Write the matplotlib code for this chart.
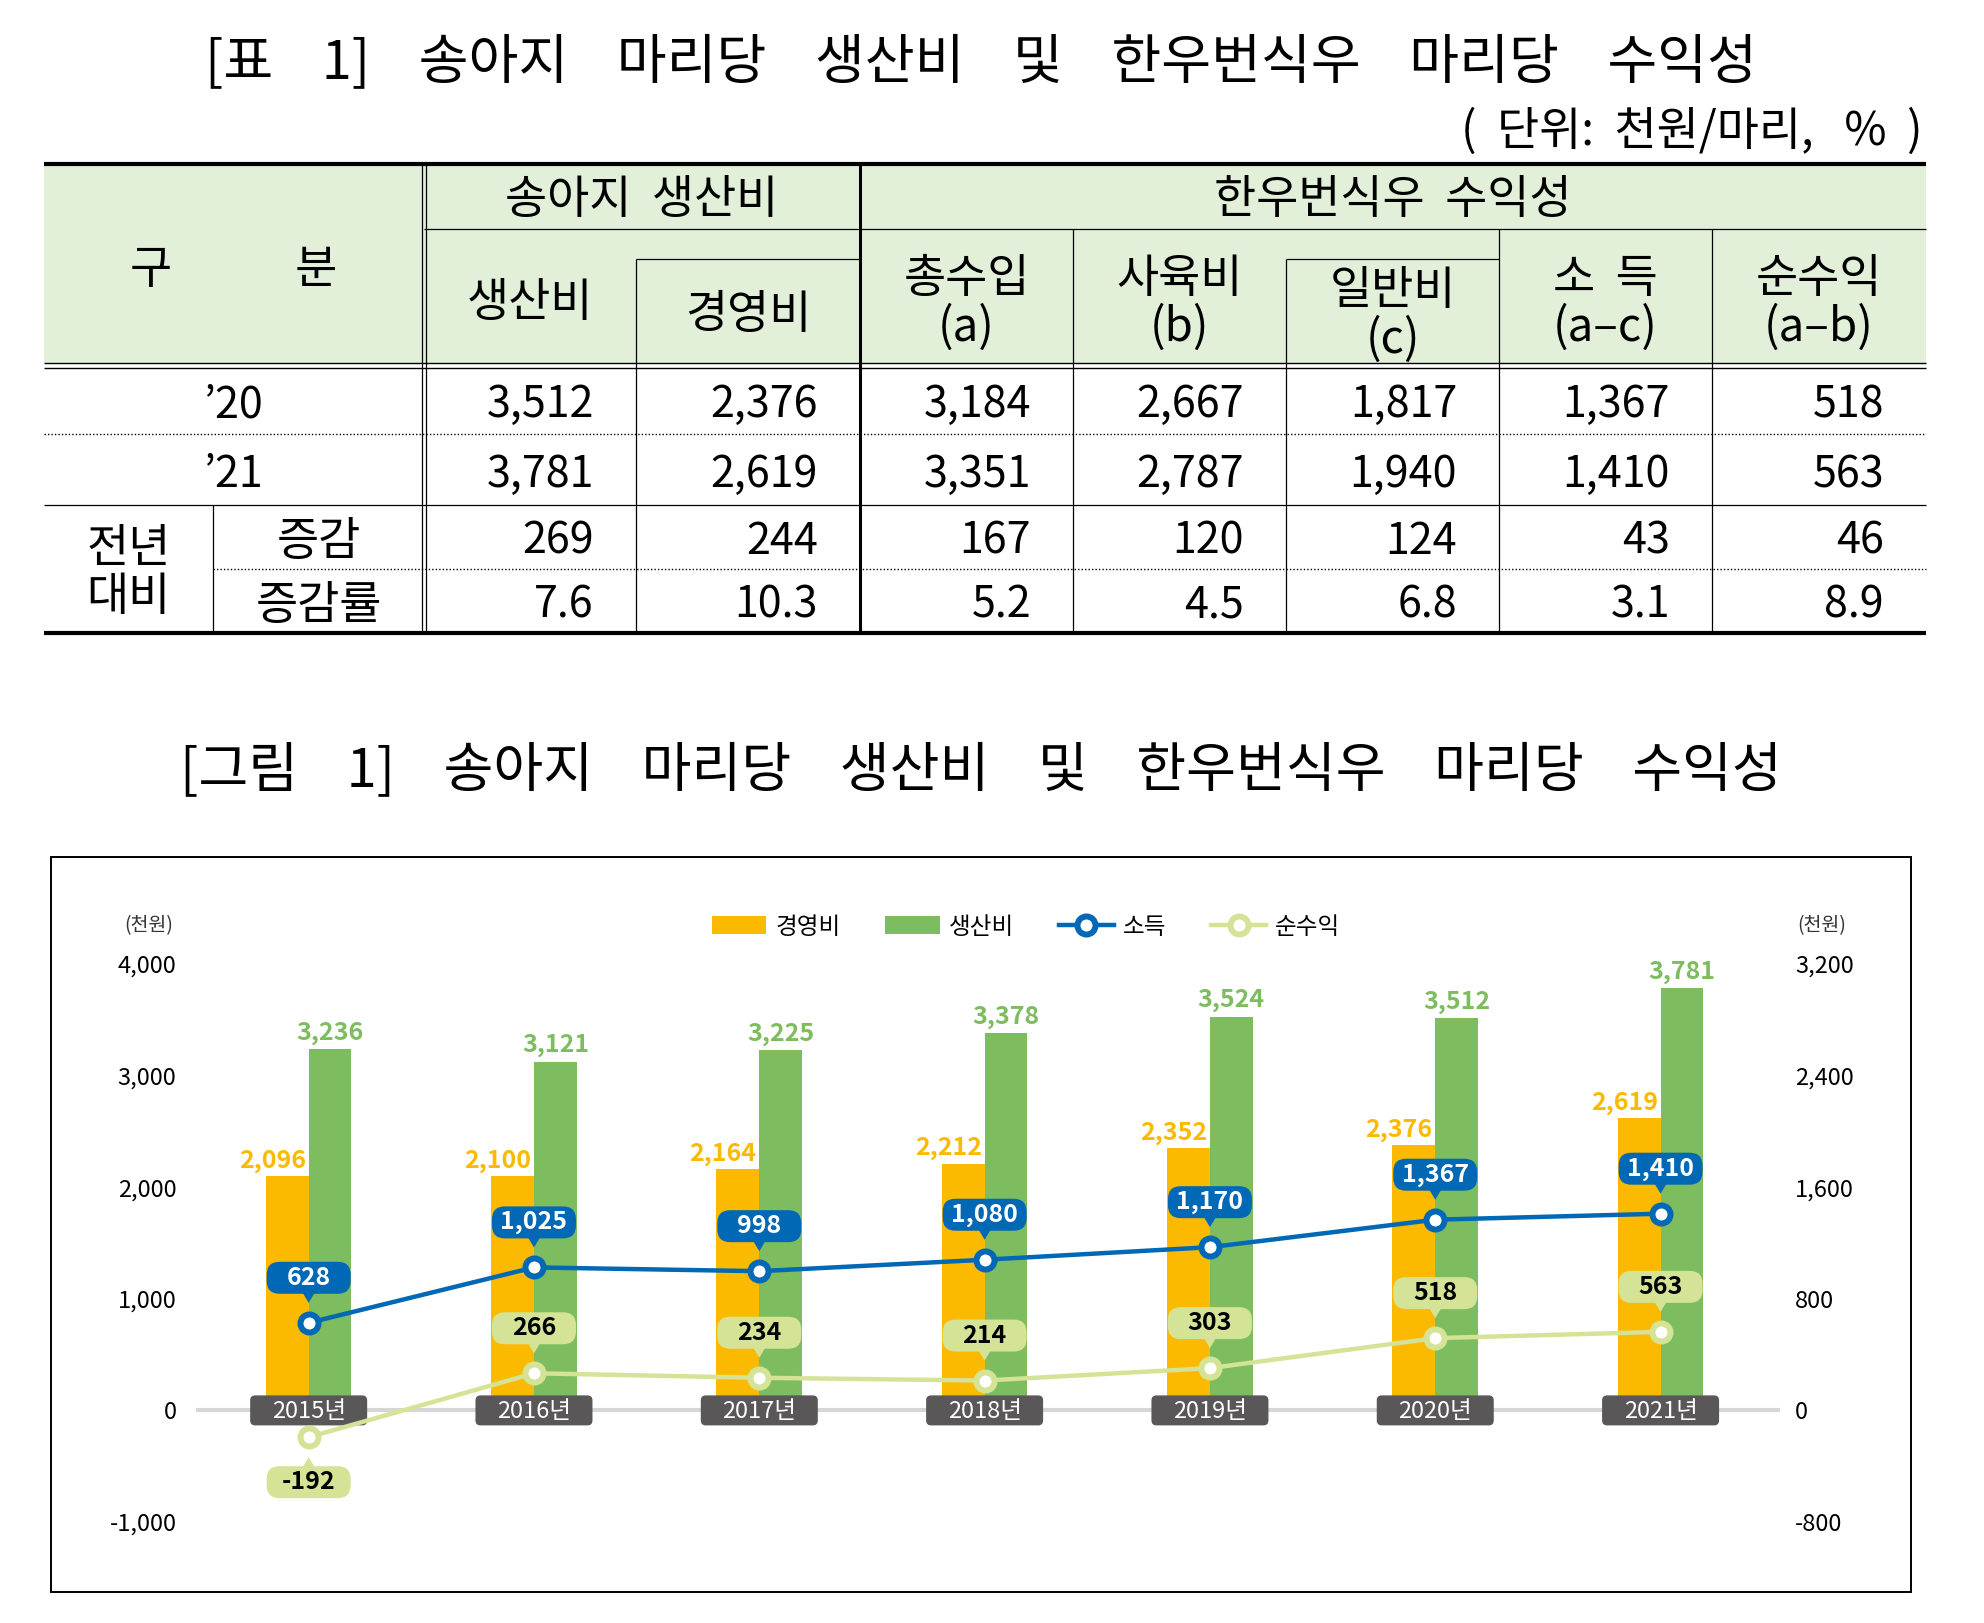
import numpy as np
import matplotlib
matplotlib.use("Agg")
import matplotlib.pyplot as plt
import matplotlib.transforms as mtransforms
from matplotlib.patches import Rectangle, FancyBboxPatch, Polygon

plt.rcParams['font.family'] = ['Noto Sans CJK KR', 'DejaVu Sans']

# ---- table data ([표 1]) ----
table_headers = ["생산비", "경영비", "총수입\n(a)", "사육비\n(b)", "일반비\n(c)", "소  득\n(a–c)", "순수익\n(a–b)"]
row_labels = ["’20", "’21"]
row_2020 = [3512, 2376, 3184, 2667, 1817, 1367, 518]
row_2021 = [3781, 2619, 3351, 2787, 1940, 1410, 563]
row_diff = [269, 244, 167, 120, 124, 43, 46]
row_rate = [7.6, 10.3, 5.2, 4.5, 6.8, 3.1, 8.9]

# ---- chart data ([그림 1]) ----
years = ["2015년", "2016년", "2017년", "2018년", "2019년", "2020년", "2021년"]
mgmt_cost = [2096, 2100, 2164, 2212, 2352, 2376, 2619]   # 경영비
prod_cost = [3236, 3121, 3225, 3378, 3524, 3512, 3781]   # 생산비
income = [628, 1025, 998, 1080, 1170, 1367, 1410]        # 소득
net_profit = [-192, 266, 234, 214, 303, 518, 563]        # 순수익
left_ticks = [-1000, 0, 1000, 2000, 3000, 4000]
right_ticks = [-800, 0, 800, 1600, 2400, 3200]

YELLOW = '#FBBA00'
GREEN = '#7DBD60'
BLUE = '#0068B5'
LGREEN = '#D4E396'
HEAD = '#E2EFD9'

W, H = 1984, 1623
fig = plt.figure(figsize=(W / 100, H / 100), dpi=100)

# page layer in pixel coordinates for the table, titles and frame
page = fig.add_axes([0, 0, 1, 1])
page.set_xlim(0, W)
page.set_ylim(H, 0)
page.axis('off')


def seg(x0, y0, x1, y1, lw=0.9, ls='-'):
    page.plot([x0, x1], [y0, y1], color='black', lw=lw, ls=ls, solid_capstyle='butt')


page.text(981, 63, "[표    1]    송아지    마리당    생산비    및    한우번식우    마리당    수익성",
          ha='center', va='center', fontsize=39)
page.text(1923, 132, "(  단위:  천원/마리,   %  )", ha='right', va='center', fontsize=33)

# table grid
cx = [44, 213, 424, 636, 860, 1073, 1286, 1499, 1712, 1926]
top, g1, g2, hb, r1, r2, r3, bot = 164, 229, 259, 363, 434, 505, 569, 633
page.add_patch(Rectangle((cx[0], top), cx[-1] - cx[0], hb - top, fc=HEAD, ec='none'))
dot = (0, (1, 1.5))
seg(cx[0], top, cx[-1], top, lw=3)
seg(cx[2], g1, cx[-1], g1)
seg(cx[3], g2, cx[4], g2)
seg(cx[6], g2, cx[7], g2)
seg(cx[0], hb, cx[-1], hb, lw=1.0)
seg(cx[0], hb + 5, cx[-1], hb + 5, lw=1.0)
seg(cx[0], r1, cx[-1], r1, lw=1.0, ls=dot)
seg(cx[0], r2, cx[-1], r2)
seg(cx[1], r3, cx[-1], r3, lw=1.0, ls=dot)
seg(cx[0], bot, cx[-1], bot, lw=3)
seg(cx[2] - 2, top, cx[2] - 2, bot)
seg(cx[2] + 2, top, cx[2] + 2, bot)
seg(cx[4], top, cx[4], bot, lw=2.2)
seg(cx[3], g2, cx[3], bot)
seg(cx[6], g2, cx[6], bot)
for k in (5, 7, 8):
    seg(cx[k], g1, cx[k], bot)
seg(cx[1], r2, cx[1], bot)

fs = 31
hfs = 33
page.text((cx[0] + cx[2]) / 2, 270, "구            분", ha='center', va='center', fontsize=hfs)
page.text((cx[2] + cx[4]) / 2, 200, "송아지  생산비", ha='center', va='center', fontsize=hfs)
page.text((cx[4] + cx[-1]) / 2, 200, "한우번식우  수익성", ha='center', va='center', fontsize=hfs)
for k, lab in enumerate(table_headers):
    x = (cx[k + 2] + cx[k + 3]) / 2
    y = 303
    if k == 1 or k == 4:
        y = 315
    page.text(x, y, lab, ha='center', va='center', fontsize=hfs, linespacing=1.0)

row_y = [405, 475, 542, 606]
page.text((cx[0] + cx[2]) / 2, row_y[0], row_labels[0], ha='center', va='center', fontsize=fs)
page.text((cx[0] + cx[2]) / 2, row_y[1], row_labels[1], ha='center', va='center', fontsize=fs)
page.text((cx[0] + cx[1]) / 2, 573, "전년\n대비", ha='center', va='center', fontsize=hfs, linespacing=1.0)
page.text((cx[1] + cx[2]) / 2, row_y[2], "증감", ha='center', va='center', fontsize=hfs)
page.text((cx[1] + cx[2]) / 2, row_y[3], "증감률", ha='center', va='center', fontsize=hfs)
rows = [[f"{v:,}" for v in row_2020], [f"{v:,}" for v in row_2021],
        [f"{v:,}" for v in row_diff], [f"{v:.1f}" for v in row_rate]]
for r, vals in enumerate(rows):
    for k, s in enumerate(vals):
        page.text(cx[k + 3] - 42, row_y[r], s, ha='right', va='center', fontsize=fs)

# chart title and frame
page.text(981, 771, "[그림    1]    송아지    마리당    생산비    및    한우번식우    마리당    수익성",
          ha='center', va='center', fontsize=39)
page.add_patch(Rectangle((51, 857), 1860, 735, fill=False, ec='black', lw=1.4))
page.text(149, 926, "(천원)", ha='center', va='center', fontsize=14, color='#333333')
page.text(1822, 926, "(천원)", ha='center', va='center', fontsize=14, color='#333333')

# ---- chart ----
ax = fig.add_axes([196 / W, (H - 1522) / H, (1780 - 196) / W, (1522 - 964) / H])
ax.patch.set_visible(False)
x = np.arange(len(years))
bw = 0.19
ax.axhline(0, color='#d6d6d6', lw=3, zorder=1)
b1 = ax.bar(x - bw / 2, mgmt_cost, bw, color=YELLOW, zorder=2, label='경영비')
b2 = ax.bar(x + bw / 2, prod_cost, bw, color=GREEN, zorder=2, label='생산비')
for i in range(len(years)):
    ax.annotate(f"{mgmt_cost[i]:,}", xy=(x[i], mgmt_cost[i]), xytext=(-2, 11),
                textcoords='offset points', ha='right', va='center',
                color=YELLOW, fontsize=18, fontweight='bold')
    ax.annotate(f"{prod_cost[i]:,}", xy=(x[i] + bw / 2, prod_cost[i]), xytext=(0, 12),
                textcoords='offset points', ha='center', va='center',
                color=GREEN, fontsize=18, fontweight='bold')
    tr = fig.dpi_scale_trans + mtransforms.ScaledTranslation(x[i], 0, ax.transData)
    ax.add_patch(FancyBboxPatch((-0.585, -0.15), 1.17, 0.30, boxstyle='round,pad=0,rounding_size=0.05',
                                fc='#595758', ec='none', transform=tr, zorder=3, clip_on=False))
    ax.text(0, -0.01, years[i], transform=tr, ha='center', va='center',
            color='white', fontsize=17, zorder=4)

ax2 = ax.twinx()
l1, = ax2.plot(x, income, color=BLUE, lw=3.2, marker='o', ms=13, mfc='white', mec=BLUE,
               mew=4.3, zorder=4, label='소득')
l2, = ax2.plot(x, net_profit, color=LGREEN, lw=3.2, marker='o', ms=13, mfc='white', mec=LGREEN,
               mew=4.3, zorder=4, label='순수익')


def bubble(xv, yv, s, fc, tc):
    tr = fig.dpi_scale_trans + mtransforms.ScaledTranslation(xv, yv, ax2.transData)
    sign = 1 if yv >= 0 else -1
    cy = 0.45 * sign
    ax2.add_patch(FancyBboxPatch((-0.42, cy - 0.16), 0.84, 0.32,
                                 boxstyle='round,pad=0,rounding_size=0.13',
                                 fc=fc, ec='none', transform=tr, zorder=6, clip_on=False))
    ax2.add_patch(Polygon([(-0.06, sign * 0.30), (0.06, sign * 0.30), (0, sign * 0.20)],
                          closed=True, fc=fc, ec='none', transform=tr, zorder=6, clip_on=False))
    ax2.text(0, cy, s, transform=tr, ha='center', va='center', color=tc,
             fontsize=18, fontweight='bold', zorder=7)


for i in range(len(years)):
    bubble(x[i], income[i], f"{income[i]:,}", BLUE, 'white')
    bubble(x[i], net_profit[i], f"{net_profit[i]:,}", LGREEN, 'black')

ax.set_xlim(-0.5, 6.53)
ax.set_ylim(-1000, 4000)
ax2.set_ylim(-800, 3200)
ax.set_xticks([])
ax.set_yticks(left_ticks)
ax.set_yticklabels([f"{v:,}" for v in left_ticks])
ax2.set_yticks(right_ticks)
ax2.set_yticklabels([f"{v:,}" for v in right_ticks])
ax.tick_params(axis='y', length=0, pad=14, labelsize=17)
ax2.tick_params(axis='y', length=0, pad=11, labelsize=17)
for a in (ax, ax2):
    for sp in a.spines.values():
        sp.set_visible(False)

fig.legend([b1, b2, l1, l2], ['경영비', '생산비', '소득', '순수익'], loc='center',
           bbox_to_anchor=(1026 / W, 1 - 927 / H), ncol=4, frameon=False, fontsize=17,
           handlelength=2.3, handleheight=0.8, handletextpad=0.4, columnspacing=1.9)

fig.savefig("out.png", dpi=100, facecolor='white')
